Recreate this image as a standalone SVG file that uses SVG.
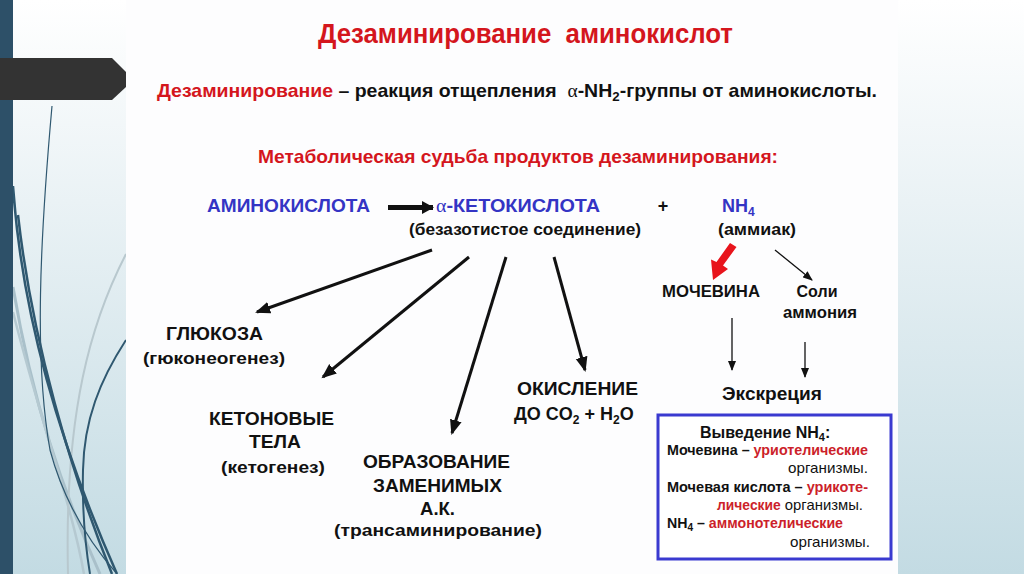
<svg xmlns="http://www.w3.org/2000/svg" width="1024" height="574" viewBox="0 0 1024 574">
<style>
text{font-family:"Liberation Sans",Arial,sans-serif;font-weight:bold}
.red{fill:#d4161d}
.blk{fill:#111}
.blue{fill:#3434c4}
.rd2{fill:#cc1f2b}
.mid{text-anchor:middle}
.greek{font-family:"Liberation Serif","DejaVu Serif",serif;font-weight:normal}
.thick{stroke:#111;stroke-width:3;fill:none}
.thin{stroke:#111;stroke-width:1.3;fill:none}
.norm{font-weight:normal}
.pre{white-space:pre}
</style>
<defs>
<linearGradient id="side" x1="0" y1="0" x2="0" y2="1">
<stop offset="0" stop-color="#ffffff"/>
<stop offset="0.35" stop-color="#eaf2f5"/>
<stop offset="1" stop-color="#c3dbe3"/>
</linearGradient>
<clipPath id="lc"><rect x="13" y="0" width="113" height="574"/></clipPath>
<marker id="ah" markerUnits="userSpaceOnUse" markerWidth="16" markerHeight="14" refX="13" refY="6" orient="auto" viewBox="0 0 16 12">
<path d="M0,0 L15,6 L0,12 z" fill="#111"/>
</marker>
<marker id="ahr" markerUnits="userSpaceOnUse" markerWidth="12" markerHeight="13" refX="11" refY="6.5" orient="auto" viewBox="0 0 12 13">
<path d="M0,0 L12,6.5 L0,13 z" fill="#111"/>
</marker>
<marker id="ahs" markerUnits="userSpaceOnUse" markerWidth="10" markerHeight="8" refX="9" refY="4" orient="auto" viewBox="0 0 10 8">
<path d="M0,0 L10,4 L0,8 z" fill="#111"/>
</marker>
</defs>
<g id="background">
<rect x="0" y="0" width="1024" height="574" fill="#fdfdfe"/>
<rect x="0" y="0" width="126" height="574" fill="url(#side)"/>
<rect x="898" y="0" width="126" height="574" fill="url(#side)"/>
<g clip-path="url(#lc)" fill="none">
<path d="M13,287 C32,400 62,490 100,574" stroke="#a9c0ca" stroke-width="3"/>
<path d="M13,312 C40,420 72,505 84,574" stroke="#b5c9d1" stroke-width="2.5"/>
<path d="M126,254 C92,320 64,410 68,574" stroke="#b8c8ce" stroke-width="2"/>
<path d="M52,106 C40,240 34,360 50,450 C66,510 96,550 117,574" stroke="#2f5870" stroke-width="1.2"/>
<path d="M13,186 C22,320 62,450 117,574" stroke="#2f5870" stroke-width="2.5"/>
<path d="M18,215 C32,340 70,470 112,574" stroke="#2f5870" stroke-width="2.5"/>
<path d="M126,340 C100,380 84,420 83,470 C82,515 86,550 90,574" stroke="#2f5870" stroke-width="2"/>
</g>
<rect x="0" y="0" width="13" height="574" fill="#2d5068"/>
<path d="M0,58 L112,58 L126,72 L126,87 L112,100 L0,100 z" fill="#333333"/>
</g>
<g id="title">
<text x="318" y="43" class="red pre" font-size="27" textLength="415" lengthAdjust="spacingAndGlyphs">Дезаминирование  аминокислот</text>
</g>
<g id="definition">
<text x="157" y="97" class="pre" font-size="19" textLength="720" lengthAdjust="spacingAndGlyphs"><tspan class="red">Дезаминирование</tspan><tspan class="blk"> – реакция отщепления  </tspan><tspan class="blk greek">α</tspan><tspan class="blk">-NH</tspan><tspan class="blk" font-size="13" dy="4">2</tspan><tspan class="blk" dy="-4">-группы от аминокислоты.</tspan></text>
</g>
<g id="subtitle">
<text x="258" y="163" class="red" font-size="19" textLength="520" lengthAdjust="spacingAndGlyphs">Метаболическая судьба продуктов дезаминирования:</text>
</g>
<g id="connectors">
<line x1="388" y1="207.5" x2="433" y2="207.5" stroke="#111" stroke-width="5" marker-end="url(#ahr)"/>
<line x1="432" y1="250" x2="257" y2="312" class="thick" marker-end="url(#ah)"/>
<line x1="469" y1="257" x2="323" y2="377" class="thick" marker-end="url(#ah)"/>
<line x1="506" y1="257" x2="452" y2="433" class="thick" marker-end="url(#ah)"/>
<line x1="554" y1="257" x2="585" y2="370" class="thick" marker-end="url(#ah)"/>
<path d="M730,243 L736.5,247 L723,265.5 L728,269 L713,280 L711,259.5 L716.5,262 z" fill="#e8141c"/>
<line x1="775" y1="250" x2="812" y2="280" class="thin" marker-end="url(#ahs)"/>
<line x1="732" y1="318" x2="732" y2="370" class="thin" marker-end="url(#ahs)"/>
<line x1="805" y1="342" x2="805" y2="377" class="thin" marker-end="url(#ahs)"/>
</g>
<g id="aminoacid">
<text x="207" y="212" class="blue" font-size="18" textLength="163" lengthAdjust="spacingAndGlyphs">АМИНОКИСЛОТА</text>
</g>
<g id="ketoacid">
<text x="436" y="212" class="blue" font-size="18" textLength="164" lengthAdjust="spacingAndGlyphs"><tspan class="greek">α</tspan>-КЕТОКИСЛОТА</text>
<text x="409" y="235" class="blk" font-size="16" textLength="232" lengthAdjust="spacingAndGlyphs">(безазотистое соединение)</text>
</g>
<g id="plus">
<text x="663" y="212" class="blk mid" font-size="18">+</text>
</g>
<g id="ammonia">
<text x="722" y="212" class="blue" font-size="18">NH<tspan font-size="12" dy="4">4</tspan></text>
<text x="718" y="235" class="blk" font-size="16" textLength="78" lengthAdjust="spacingAndGlyphs">(аммиак)</text>
</g>
<g id="glucose">
<text x="166" y="340" class="blk" font-size="18" textLength="97" lengthAdjust="spacingAndGlyphs">ГЛЮКОЗА</text>
<text x="143" y="364" class="blk" font-size="17" textLength="142" lengthAdjust="spacingAndGlyphs">(гюконеогенез)</text>
</g>
<g id="ketones">
<text x="209" y="425" class="blk" font-size="18" textLength="125" lengthAdjust="spacingAndGlyphs">КЕТОНОВЫЕ</text>
<text x="249" y="448" class="blk" font-size="18" textLength="52" lengthAdjust="spacingAndGlyphs">ТЕЛА</text>
<text x="221" y="473" class="blk" font-size="17" textLength="104" lengthAdjust="spacingAndGlyphs">(кетогенез)</text>
</g>
<g id="transamination">
<text x="363" y="468" class="blk" font-size="18" textLength="147" lengthAdjust="spacingAndGlyphs">ОБРАЗОВАНИЕ</text>
<text x="373" y="492" class="blk" font-size="18" textLength="129" lengthAdjust="spacingAndGlyphs">ЗАМЕНИМЫХ</text>
<text x="420" y="515" class="blk" font-size="18" textLength="35" lengthAdjust="spacingAndGlyphs">А.К.</text>
<text x="334" y="536" class="blk" font-size="17" textLength="208" lengthAdjust="spacingAndGlyphs">(трансаминирование)</text>
</g>
<g id="oxidation">
<text x="517" y="395" class="blk" font-size="18" textLength="121" lengthAdjust="spacingAndGlyphs">ОКИСЛЕНИЕ</text>
<text x="514" y="420" class="blk" font-size="18">ДО CO<tspan font-size="12" dy="4">2</tspan><tspan dy="-4"> + H</tspan><tspan font-size="12" dy="4">2</tspan><tspan dy="-4">O</tspan></text>
</g>
<g id="urea">
<text x="662" y="297" class="blk" font-size="16" textLength="98" lengthAdjust="spacingAndGlyphs">МОЧЕВИНА</text>
</g>
<g id="salts">
<text x="817" y="297" class="blk mid" font-size="16">Соли</text>
<text x="820" y="318" class="blk mid" font-size="16" textLength="74" lengthAdjust="spacingAndGlyphs">аммония</text>
</g>
<g id="excretion">
<text x="722" y="400" class="blk" font-size="18" textLength="100" lengthAdjust="spacingAndGlyphs">Экскреция</text>
</g>
<g id="box">
<rect x="658" y="415" width="233" height="144" fill="#ffffff" stroke="#3a3ad0" stroke-width="3"/>
<text x="700" y="438" class="blk" font-size="16">Выведение NH<tspan font-size="11" dy="3">4</tspan><tspan dy="-3">:</tspan></text>
<text x="667" y="455" font-size="14" textLength="201" lengthAdjust="spacingAndGlyphs"><tspan class="blk">Мочевина – </tspan><tspan class="rd2">уриотелические</tspan></text>
<text x="868" y="473" class="blk norm" font-size="15" text-anchor="end" textLength="80" lengthAdjust="spacingAndGlyphs">организмы.</text>
<text x="667" y="492" font-size="14" textLength="201" lengthAdjust="spacingAndGlyphs"><tspan class="blk">Мочевая кислота – </tspan><tspan class="rd2">урикоте-</tspan></text>
<text x="717" y="510" font-size="14" textLength="146" lengthAdjust="spacingAndGlyphs"><tspan class="rd2">лические</tspan><tspan class="blk norm" font-size="15"> организмы.</tspan></text>
<text x="667" y="528" font-size="14" textLength="176" lengthAdjust="spacingAndGlyphs"><tspan class="blk">NH</tspan><tspan class="blk" font-size="10" dy="3">4</tspan><tspan class="blk" dy="-3"> – </tspan><tspan class="rd2">аммонотелические</tspan></text>
<text x="870" y="547" class="blk norm" font-size="15" text-anchor="end" textLength="80" lengthAdjust="spacingAndGlyphs">организмы.</text>
</g>
</svg>
